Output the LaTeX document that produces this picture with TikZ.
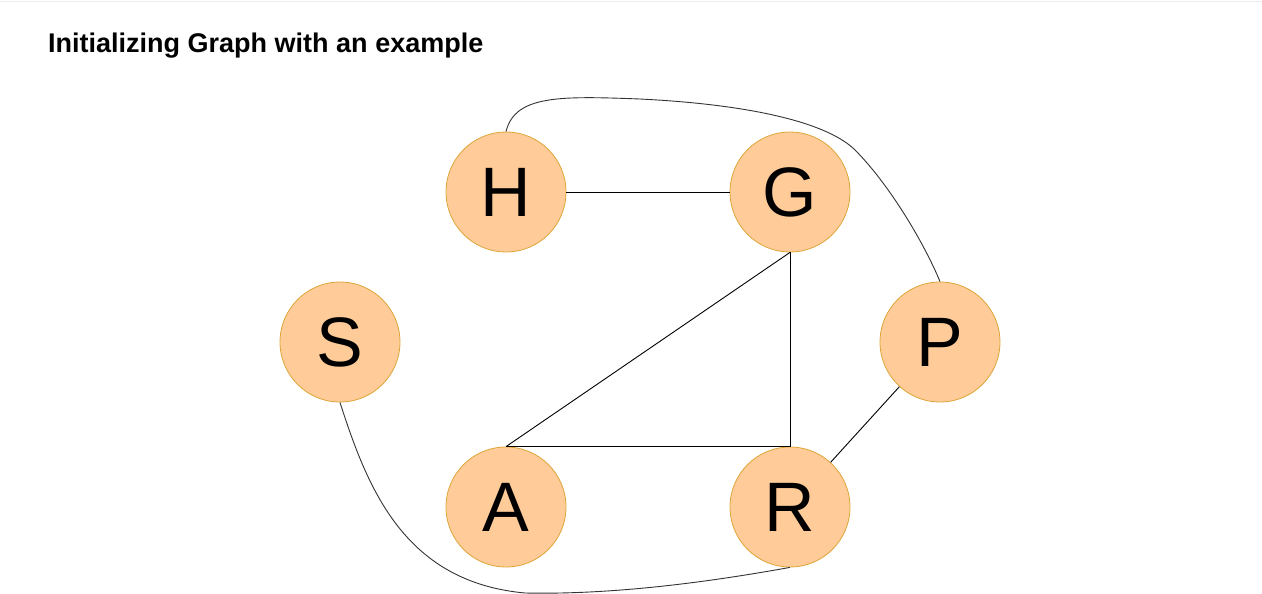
\documentclass[tikz,border=0pt]{standalone}
\usepackage{fontspec}
\setmainfont{Liberation Sans}
\usetikzlibrary{calc}
\definecolor{vfill}{HTML}{FFCC99}
\definecolor{vline}{HTML}{DDA537}

\begin{document}
\begin{tikzpicture}[x=1pt,y=-1pt,
  vertex/.style={circle,draw=vline,fill=vfill,line width=0.8pt,minimum size=120pt,inner sep=0pt,font=\fontsize{70}{70}\selectfont},
  edge/.style={black,line width=0.9pt},
  curveedge/.style={black!80,line width=0.9pt}]
\useasboundingbox (0,0) rectangle (1262,594);
\draw[black!7] (0,1.5)--(1262,1.5);
\node[anchor=base west,inner sep=0pt,font=\bfseries\fontsize{27}{32}\selectfont] (title) at (48,53) {Initializing Graph with an example};
\foreach \n/\x/\y in {H/506/192, G/790/192, S/340/342, P/940/342, A/506/507, R/790/507}
  \node[vertex] (\n) at (\x,\y) {\n};
\draw[edge] (H)--(G);
\draw[edge] (G.south)--(A.north);
\draw[edge] (G.south)--(R.north);
\draw[edge] (A.north)--(R.north);
\draw[edge] (R)--(P);
\draw[curveedge] (H.north) .. controls (515,95) and (560,96) .. (640,99) .. controls (760,105) and (830,125) .. (855,150) .. controls (890,185) and (925,245) .. (P.north);
\draw[curveedge] (S.south) .. controls (368,490) and (405,582) .. (525,593) .. controls (620,595) and (720,580) .. (R.south);
\end{tikzpicture}
\end{document}
